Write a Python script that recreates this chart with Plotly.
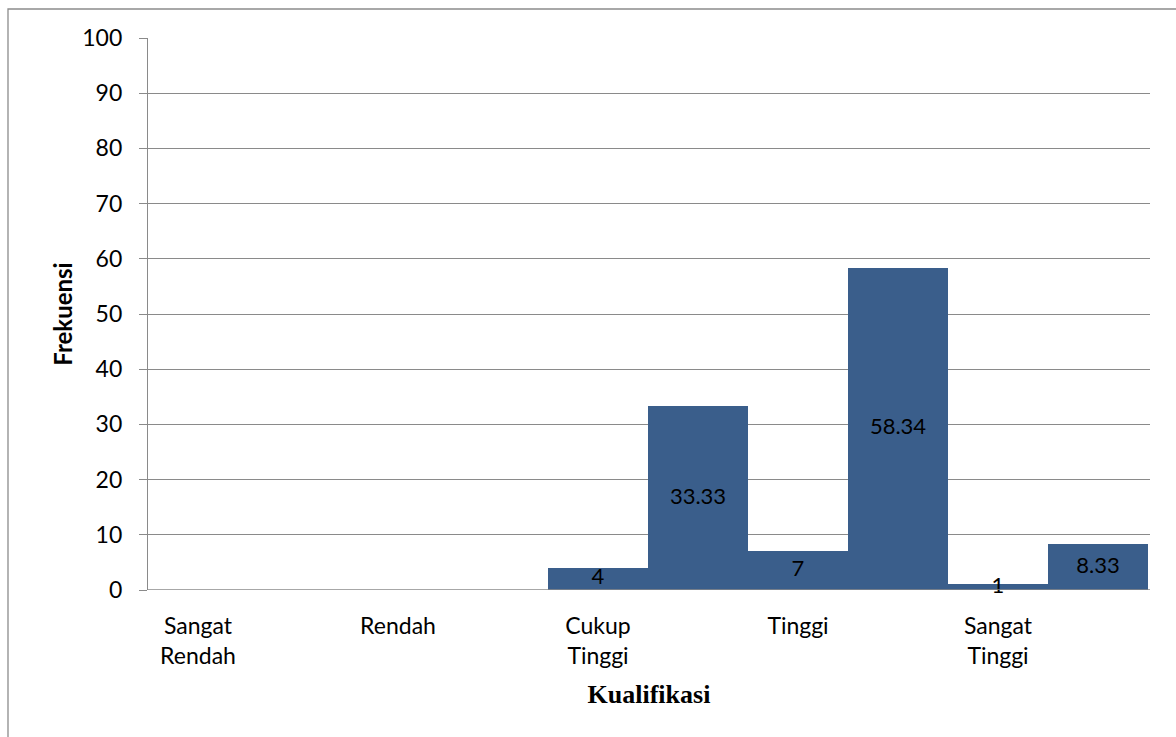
import plotly.graph_objects as go

categories = ["Sangat<br>Rendah", "Rendah", "Cukup<br>Tinggi", "Tinggi", "Sangat<br>Tinggi"]
frekuensi = [0, 0, 4, 7, 1]
persentase = [0, 0, 33.33, 58.34, 8.33]
label_freq = ["", "", "4", "7", "1"]
label_pct = ["", "", "33.33", "58.34", "8.33"]
yticks = [0, 10, 20, 30, 40, 50, 60, 70, 80, 90, 100]

BAR = "#3A5E8B"
GRID = "#8A8A8A"
FONT = "Lato"

idx = list(range(len(categories)))
x1 = [i + 0.25 for i in idx]
x2 = [i + 0.75 for i in idx]

fig = go.Figure()
fig.add_trace(go.Bar(x=x1, y=frekuensi, width=0.5, marker=dict(color=BAR, line=dict(width=0)),
                     hoverinfo="skip", showlegend=False))
fig.add_trace(go.Bar(x=x2, y=persentase, width=0.5, marker=dict(color=BAR, line=dict(width=0)),
                     hoverinfo="skip", showlegend=False))
fig.add_trace(go.Scatter(x=x1, y=[v / 2 for v in frekuensi], text=label_freq, mode="text",
                         textfont=dict(family=FONT, size=22, color="#000000"),
                         hoverinfo="skip", showlegend=False, cliponaxis=False))
fig.add_trace(go.Scatter(x=x2, y=[v / 2 for v in persentase], text=label_pct, mode="text",
                         textfont=dict(family=FONT, size=22, color="#000000"),
                         hoverinfo="skip", showlegend=False, cliponaxis=False))

fig.update_layout(
    width=1176, height=737,
    margin=dict(l=148, r=26, t=38, b=147),
    paper_bgcolor="white", plot_bgcolor="white",
    barmode="overlay", bargap=0,
    font=dict(family=FONT, size=22, color="#000000"),
    xaxis=dict(
        range=[0, 5.01], tickmode="array", tickvals=x1, ticktext=categories,
        showgrid=False, zeroline=False, showline=False, ticks="",
        ticklabelstandoff=20,
        tickfont=dict(family=FONT, size=23),
        title=dict(text="<b>Kualifikasi</b>", font=dict(family="Liberation Serif", size=26), standoff=16),
    ),
    yaxis=dict(
        range=[0, 100], tickmode="array", tickvals=yticks,
        showgrid=True, gridcolor=GRID, gridwidth=1.3,
        zeroline=False, showline=True, linecolor=GRID, linewidth=1.3,
        ticks="outside", ticklen=8, tickcolor=GRID, tickwidth=1.3,
        ticklabelstandoff=12,
        tickfont=dict(family=FONT, size=23),
        title=dict(text="<b>Frekuensi</b>", font=dict(family=FONT, size=24), standoff=2),
    ),
    shapes=[
        dict(type="line", xref="paper", yref="y", x0=0, x1=1, y0=0, y1=0,
             line=dict(color=GRID, width=1.3)),
        dict(type="rect", xref="paper", yref="paper", x0=-140 / 1002, x1=1.2,
             y0=-0.5, y1=(590 - 9) / 552, line=dict(color="#8C8C8C", width=1.3)),
    ],
)

fig.write_html("out.html")
